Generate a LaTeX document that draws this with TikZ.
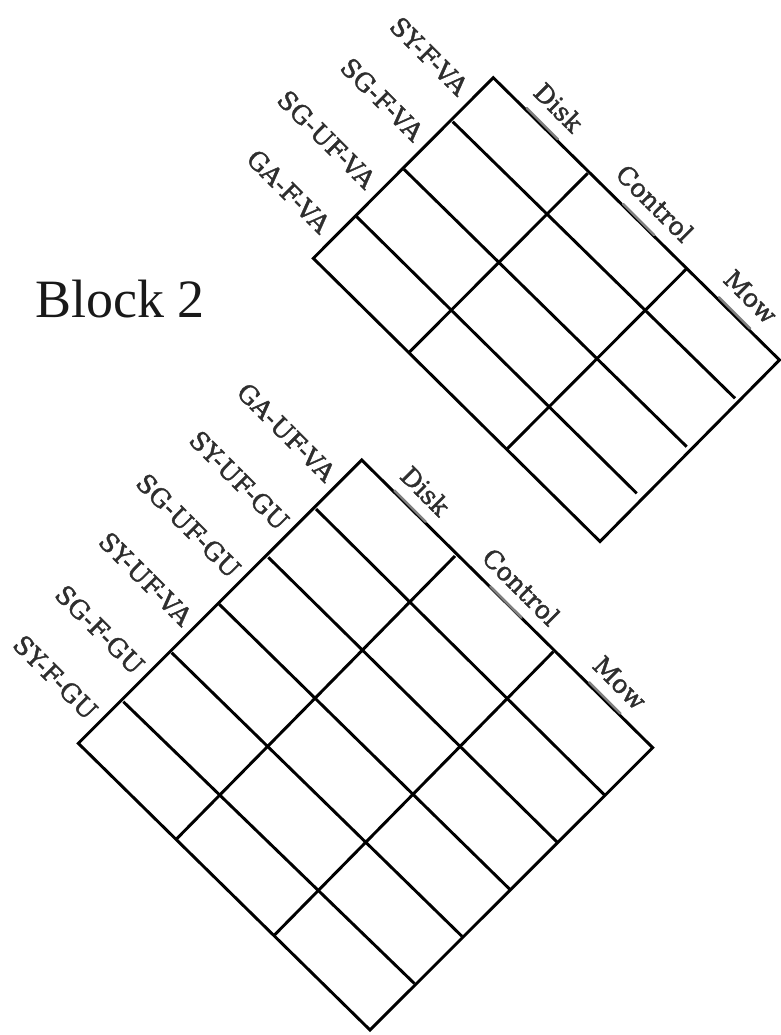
\documentclass[tikz,border=0pt]{standalone}
\usepackage{fontspec}
\setmainfont{Liberation Serif}
\newfontfamily\lblfont{DejaVu Serif}[FakeBold=1.6]
\usetikzlibrary{calc}
\begin{document}
\begin{tikzpicture}[x=0.75pt,y=-0.75pt,
  grid/.style={line width=2.2pt, line join=miter, line cap=butt, black},
  rowlbl/.style={font=\lblfont\fontsize{19}{20}\selectfont, text=black!82, inner sep=0pt, rotate=-45, anchor=east},
  collbl/.style={font=\lblfont\fontsize{19}{20}\selectfont, text=black!82, inner sep=0pt, rotate=-45, anchor=south},
  smudge/.style={line width=1.9pt, black!50, line cap=round}]
\useasboundingbox (0,0) rectangle (781,1035);

% ---------- top grid ----------
\coordinate (T1) at (493.3,77.7);
\coordinate (L1) at (313.3,258.3);
\coordinate (R1) at (779.5,360);
\coordinate (B1) at (600,541.5);
\coordinate (a1) at (452.7,121.7);
\coordinate (a2) at (404,169.3);
\coordinate (a3) at (356.7,216.7);
\coordinate (c1) at (587.7,173.3);
\coordinate (c2) at (686,269.3);
\coordinate (p1) at (409,352.5);
\coordinate (p2) at (507,449);
\coordinate (q1) at (735,398.3);
\coordinate (q2) at (686.7,446.7);
\coordinate (q3) at (636.7,493.3);

\draw[grid] (T1) -- (R1) -- (B1) -- (L1) -- cycle;
\draw[grid] (c1) -- (p1);
\draw[grid] (c2) -- (p2);
\draw[grid] (a1) -- (q1);
\draw[grid] (a2) -- (q2);
\draw[grid] (a3) -- (q3);

\path ($(T1)!0.5!(a1)$) ++(-9,-9) node[rowlbl] (r11) {SY-F-VA};
\path ($(a1)!0.5!(a2)$) ++(-9,-9) node[rowlbl] (r12) {SG-F-VA};
\path ($(a2)!0.5!(a3)$) ++(-9,-9) node[rowlbl] (r13) {SG-UF-VA};
\path ($(a3)!0.5!(L1)$) ++(-9,-9) node[rowlbl] (r14) {GA-F-VA};

\coordinate (h1m) at ($(T1)!0.5!(c1)$);
\coordinate (h2m) at ($(c1)!0.5!(c2)$);
\coordinate (h3m) at ($(c2)!0.5!(R1)$);
\path (h1m) ++(11,-11) node[collbl] (h11) {Disk};
\path (h2m) ++(11,-11) node[collbl] (h12) {Control};
\path (h3m) ++(11,-11) node[collbl] (h13) {Mow};
\draw[smudge] ($(h1m)+(-13.8,-17.4)$) -- ($(h1m)+(17.4,13.8)$);
\draw[smudge] ($(h2m)+(-13.8,-17.4)$) -- ($(h2m)+(17.4,13.8)$);
\draw[smudge] ($(h3m)+(-13.8,-17.4)$) -- ($(h3m)+(17.4,13.8)$);

% ---------- lower grid ----------
\coordinate (T2) at (361.7,460);
\coordinate (L2) at (78.3,743.3);
\coordinate (R2) at (652.7,747.7);
\coordinate (B2) at (370,1030);
\coordinate (d1) at (316,509);
\coordinate (d2) at (268.3,557.3);
\coordinate (d3) at (219.3,604.3);
\coordinate (d4) at (171.7,652.7);
\coordinate (d5) at (123.3,701.7);
\coordinate (e1) at (455,556);
\coordinate (e2) at (553.3,651.7);
\coordinate (f1) at (604.5,795);
\coordinate (f2) at (557.3,842.3);
\coordinate (f3) at (510,889.5);
\coordinate (f4) at (462,936.3);
\coordinate (f5) at (414.5,983.6);
\coordinate (g1) at (176.5,839);
\coordinate (g2) at (274,935.5);

\draw[grid] (T2) -- (R2) -- (B2) -- (L2) -- cycle;
\draw[grid] (e1) -- (g1);
\draw[grid] (e2) -- (g2);
\foreach \i in {1,...,5} { \draw[grid] (d\i) -- (f\i); }

\path ($(T2)!0.5!(d1)$) ++(-7.5,-7.5) node[rowlbl] (r21) {GA-UF-VA};
\path ($(d1)!0.5!(d2)$) ++(-7.5,-7.5) node[rowlbl] (r22) {SY-UF-GU};
\path ($(d2)!0.5!(d3)$) ++(-7.5,-7.5) node[rowlbl] (r23) {SG-UF-GU};
\path ($(d3)!0.5!(d4)$) ++(-7.5,-7.5) node[rowlbl] (r24) {SY-UF-VA};
\path ($(d4)!0.5!(d5)$) ++(-7.5,-7.5) node[rowlbl] (r25) {SG-F-GU};
\path ($(d5)!0.5!(L2)$) ++(-7.5,-7.5) node[rowlbl] (r26) {SY-F-GU};

\coordinate (k1m) at ($(T2)!0.5!(e1)$);
\coordinate (k2m) at ($(e1)!0.5!(e2)$);
\coordinate (k3m) at ($(e2)!0.5!(R2)$);
\path (k1m) ++(10,-10) node[collbl] (h21) {Disk};
\path (k2m) ++(10,-10) node[collbl] (h22) {Control};
\path (k3m) ++(10,-10) node[collbl] (h23) {Mow};
\draw[smudge] ($(k1m)+(-13.8,-17.4)$) -- ($(k1m)+(17.4,13.8)$);
\draw[smudge] ($(k2m)+(-13.8,-17.4)$) -- ($(k2m)+(17.4,13.8)$);
\draw[smudge] ($(k3m)+(-13.8,-17.4)$) -- ($(k3m)+(17.4,13.8)$);

% ---------- title ----------
\node[anchor=base west, inner sep=0pt, font=\fontsize{40.5}{45}\selectfont, text=black!90] (blk) at (35,317) {Block 2};
\end{tikzpicture}
\end{document}
